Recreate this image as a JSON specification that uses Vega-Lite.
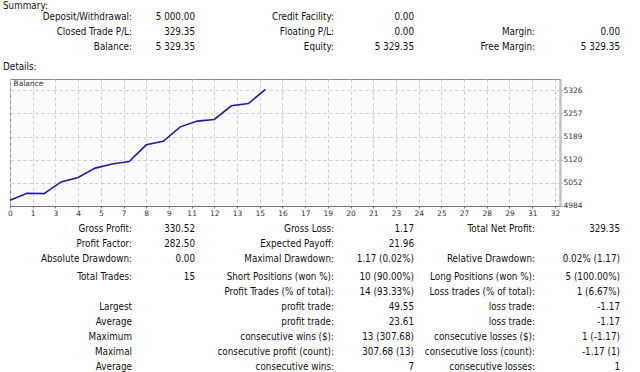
{
  "$schema": "https://vega.github.io/schema/vega-lite/v6.json",
  "width": 550,
  "height": 127,
  "padding": {"left": 10, "top": 79, "right": 80, "bottom": 166},
  "autosize": {"type": "none"},
  "background": "white",
  "config": {
    "view": {"fill": "#fdfbfd", "stroke": "#8a8a8a", "strokeWidth": 1},
    "font": "DejaVu Sans Condensed"
  },
  "datasets": {
    "balance": [
      {"trade": 0, "balance": 5000},
      {"trade": 1, "balance": 5021},
      {"trade": 2, "balance": 5019.83},
      {"trade": 3, "balance": 5054.5},
      {"trade": 4, "balance": 5067.5},
      {"trade": 5, "balance": 5095.5},
      {"trade": 6, "balance": 5107.5},
      {"trade": 7, "balance": 5115},
      {"trade": 8, "balance": 5164.55},
      {"trade": 9, "balance": 5175},
      {"trade": 10, "balance": 5218},
      {"trade": 11, "balance": 5235},
      {"trade": 12, "balance": 5240},
      {"trade": 13, "balance": 5280.5},
      {"trade": 14, "balance": 5287},
      {"trade": 15, "balance": 5329.35}
    ],
    "table": [
      {"row": 1, "col": 1, "text": "Deposit/Withdrawal:"},
      {"row": 1, "col": 2, "text": "5 000.00"},
      {"row": 1, "col": 3, "text": "Credit Facility:"},
      {"row": 1, "col": 4, "text": "0.00"},
      {"row": 2, "col": 1, "text": "Closed Trade P/L:"},
      {"row": 2, "col": 2, "text": "329.35"},
      {"row": 2, "col": 3, "text": "Floating P/L:"},
      {"row": 2, "col": 4, "text": "0.00"},
      {"row": 2, "col": 5, "text": "Margin:"},
      {"row": 2, "col": 6, "text": "0.00"},
      {"row": 3, "col": 1, "text": "Balance:"},
      {"row": 3, "col": 2, "text": "5 329.35"},
      {"row": 3, "col": 3, "text": "Equity:"},
      {"row": 3, "col": 4, "text": "5 329.35"},
      {"row": 3, "col": 5, "text": "Free Margin:"},
      {"row": 3, "col": 6, "text": "5 329.35"},
      {"row": 4, "col": 1, "text": "Gross Profit:"},
      {"row": 4, "col": 2, "text": "330.52"},
      {"row": 4, "col": 3, "text": "Gross Loss:"},
      {"row": 4, "col": 4, "text": "1.17"},
      {"row": 4, "col": 5, "text": "Total Net Profit:"},
      {"row": 4, "col": 6, "text": "329.35"},
      {"row": 5, "col": 1, "text": "Profit Factor:"},
      {"row": 5, "col": 2, "text": "282.50"},
      {"row": 5, "col": 3, "text": "Expected Payoff:"},
      {"row": 5, "col": 4, "text": "21.96"},
      {"row": 6, "col": 1, "text": "Absolute Drawdown:"},
      {"row": 6, "col": 2, "text": "0.00"},
      {"row": 6, "col": 3, "text": "Maximal Drawdown:"},
      {"row": 6, "col": 4, "text": "1.17 (0.02%)"},
      {"row": 6, "col": 5, "text": "Relative Drawdown:"},
      {"row": 6, "col": 6, "text": "0.02% (1.17)"},
      {"row": 7, "col": 1, "text": "Total Trades:"},
      {"row": 7, "col": 2, "text": "15"},
      {"row": 7, "col": 3, "text": "Short Positions (won %):"},
      {"row": 7, "col": 4, "text": "10 (90.00%)"},
      {"row": 7, "col": 5, "text": "Long Positions (won %):"},
      {"row": 7, "col": 6, "text": "5 (100.00%)"},
      {"row": 8, "col": 3, "text": "Profit Trades (% of total):"},
      {"row": 8, "col": 4, "text": "14 (93.33%)"},
      {"row": 8, "col": 5, "text": "Loss trades (% of total):"},
      {"row": 8, "col": 6, "text": "1 (6.67%)"},
      {"row": 9, "col": 1, "text": "Largest"},
      {"row": 9, "col": 3, "text": "profit trade:"},
      {"row": 9, "col": 4, "text": "49.55"},
      {"row": 9, "col": 5, "text": "loss trade:"},
      {"row": 9, "col": 6, "text": "-1.17"},
      {"row": 10, "col": 1, "text": "Average"},
      {"row": 10, "col": 3, "text": "profit trade:"},
      {"row": 10, "col": 4, "text": "23.61"},
      {"row": 10, "col": 5, "text": "loss trade:"},
      {"row": 10, "col": 6, "text": "-1.17"},
      {"row": 11, "col": 1, "text": "Maximum"},
      {"row": 11, "col": 3, "text": "consecutive wins ($):"},
      {"row": 11, "col": 4, "text": "13 (307.68)"},
      {"row": 11, "col": 5, "text": "consecutive losses ($):"},
      {"row": 11, "col": 6, "text": "1 (-1.17)"},
      {"row": 12, "col": 1, "text": "Maximal"},
      {"row": 12, "col": 3, "text": "consecutive profit (count):"},
      {"row": 12, "col": 4, "text": "307.68 (13)"},
      {"row": 12, "col": 5, "text": "consecutive loss (count):"},
      {"row": 12, "col": 6, "text": "-1.17 (1)"},
      {"row": 13, "col": 1, "text": "Average"},
      {"row": 13, "col": 3, "text": "consecutive wins:"},
      {"row": 13, "col": 4, "text": "7"},
      {"row": 13, "col": 5, "text": "consecutive losses:"},
      {"row": 13, "col": 6, "text": "1"}
    ],
    "headers": [
      {"row": 1, "text": "Summary:"},
      {"row": 2, "text": "Details:"}
    ]
  },
  "layer": [
    {
      "layer": [
        {
          "data": {"name": "balance"},
          "mark": {"type": "line", "color": "#1c1caa", "strokeWidth": 1.6},
          "encoding": {
            "x": {
              "field": "trade",
              "type": "quantitative",
              "scale": {"domain": [0, 32.3], "nice": false, "zero": false},
              "axis": {
                "values": [0, 1.3333, 2.6667, 4, 5.3333, 6.6667, 8, 9.3333, 10.6667, 12, 13.3333, 14.6667, 16, 17.3333, 18.6667, 20, 21.3333, 22.6667, 24, 25.3333, 26.6667, 28, 29.3333, 30.6667, 32],
                "tickCount": 40,
                "labelExpr": "format(round(datum.value), 'd')",
                "title": null,
                "grid": true,
                "gridDash": [3, 3],
                "gridColor": "#cdcdcd",
                "domainColor": "#6f6f6f",
                "tickColor": "#6f6f6f",
                "tickSize": 2,
                "labelFontSize": 7.5,
                "labelFont": "DejaVu Sans",
                "labelColor": "#333333",
                "labelPadding": 1,
                "labelFlush": false,
                "labelOverlap": false
              }
            },
            "y": {
              "field": "balance",
              "type": "quantitative",
              "scale": {"domain": [4983, 5360], "nice": false, "zero": false},
              "axis": {
                "orient": "right",
                "values": [4984, 5052.4, 5120.8, 5189.2, 5257.6, 5326],
                "tickCount": 12,
                "labelExpr": "format(floor(datum.value), 'd')",
                "title": null,
                "grid": true,
                "gridDash": [3, 3],
                "gridColor": "#cdcdcd",
                "domainColor": "#c4c4c4",
                "domainWidth": 2.5,
                "tickColor": "#8a8a8a",
                "tickSize": 2,
                "labelFontSize": 7.5,
                "labelFont": "DejaVu Sans",
                "labelColor": "#333333",
                "labelPadding": 1,
                "labelOverlap": false
              }
            }
          }
        },
        {
          "data": {"values": [{"label": "Balance"}]},
          "mark": {"type": "text", "align": "left", "baseline": "middle", "dx": 3.5, "dy": 4.5, "fontSize": 7.5, "font": "DejaVu Sans", "color": "#333333"},
          "encoding": {
            "x": {"datum": 0, "type": "quantitative"},
            "y": {"datum": 5360, "type": "quantitative"},
            "text": {"field": "label"}
          }
        }
      ]
    },
    {
      "data": {"name": "table"},
      "mark": {"type": "text", "align": "right", "baseline": "middle", "fontSize": 9.8, "font": "DejaVu Sans Condensed", "color": "#111111"},
      "encoding": {
        "x": {"field": "col", "type": "quantitative", "scale": {"domain": [1, 2, 3, 4, 5, 6], "range": [122, 185, 324, 404, 525, 610]}, "axis": null},
        "y": {"field": "row", "type": "quantitative", "scale": {"domain": [1, 3, 4, 6, 7, 13], "range": [-62, -32, 150, 180, 198, 288]}, "axis": null},
        "text": {"field": "text"}
      }
    },
    {
      "data": {"name": "headers"},
      "mark": {"type": "text", "align": "left", "baseline": "middle", "fontSize": 9.8, "font": "DejaVu Sans Condensed", "color": "#111111"},
      "encoding": {
        "x": {"datum": 0, "type": "quantitative", "scale": {"domain": [0, 1], "range": [-7, 543]}, "axis": null},
        "y": {"field": "row", "type": "quantitative", "scale": {"domain": [1, 2], "range": [-73, -12]}, "axis": null},
        "text": {"field": "text"}
      }
    }
  ],
  "resolve": {
    "scale": {"x": "independent", "y": "independent"},
    "axis": {"x": "independent", "y": "independent"}
  }
}
